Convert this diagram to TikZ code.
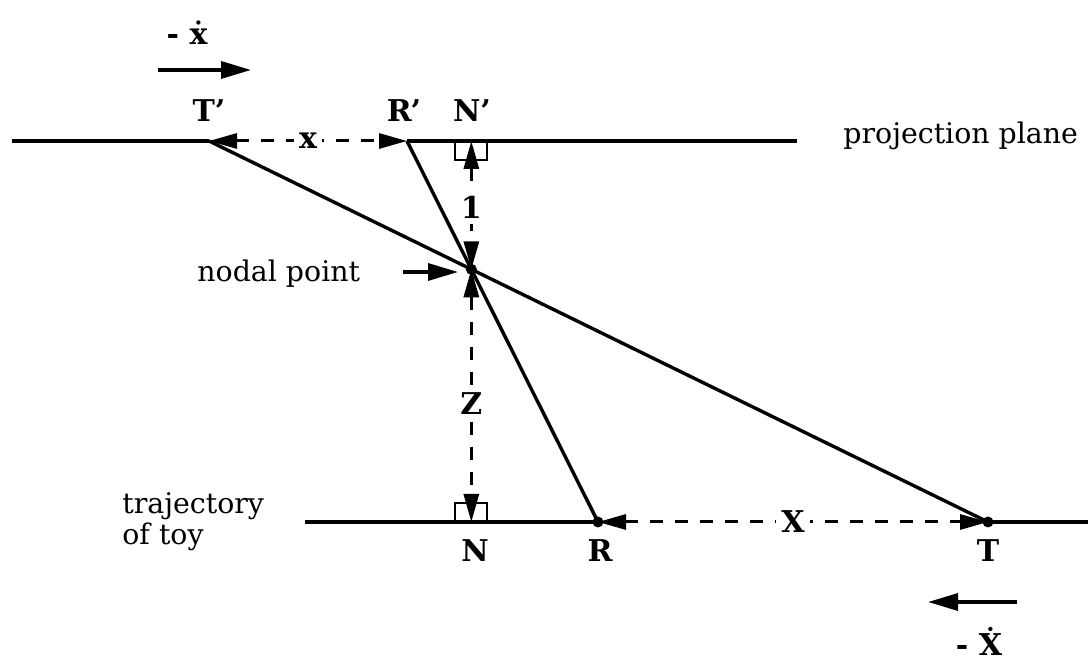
\documentclass[tikz,border=0pt]{standalone}
\usepackage{fontspec}
\setmainfont{DejaVu Serif}
\usetikzlibrary{arrows.meta,calc}
\begin{document}
\begin{tikzpicture}[x=0.5pt,y=-0.5pt,
  solidline/.style={line width=1.7pt},
  dimline/.style={line width=1.5pt, dash pattern=on 6.5pt off 6pt, {Triangle[length=14pt,width=7.5pt]}-{Triangle[length=14pt,width=7.5pt]}},
  pointer/.style={line width=1.7pt, -{Triangle[length=15pt,width=8.5pt]}},
  lbl/.style={font=\fontsize{15}{17}\selectfont\bfseries, inner sep=0pt},
  dimlbl/.style={lbl, fill=white, inner sep=2.5pt},
  txt/.style={font=\fontsize{14.2}{15.5}\selectfont, inner sep=0pt, align=left},
  rightangle/.style={line width=1.1pt},
  dot/.style={circle, fill=black, inner sep=0pt, minimum size=5.5pt}
]
\useasboundingbox (0,0) rectangle (1088,667);

% key points
\coordinate (Tp) at (209,141);
\coordinate (Rp) at (407,141);
\coordinate (R) at (598,522);
\coordinate (T) at (988,522);
\coordinate (O) at (intersection of Tp--T and Rp--R);
\coordinate (Np) at (O |- Tp);
\coordinate (N) at (O |- T);
\coordinate (PL) at (12,141);
\coordinate (PR) at (797,141);
\coordinate (TL) at (305,522);
\coordinate (TR) at (1088,522);

% planes (solid outside the dimensioned parts)
\draw[solidline] (PL) -- (Tp);
\draw[solidline] (Rp) -- (PR);
\draw[solidline] (TL) -- (R);
\draw[solidline] (T) -- (TR);

% rays
\draw[solidline] (Tp) -- (T);
\draw[solidline] (Rp) -- (R);

% right-angle marks
\draw[rightangle] ([xshift=-8pt]Np) -- ++(0,19) -- ++(32,0) -- ++(0,-19);
\draw[rightangle] ([xshift=-8pt]N) -- ++(0,-19) -- ++(32,0) -- ++(0,19);

% dimension lines
\draw[dimline] (Tp) -- node[dimlbl, pos=0.5] (xl) {x} (Rp);
\draw[dimline] (R) -- node[dimlbl, pos=0.5] (Xl) {X} (T);
\draw[dimline] (Np) -- node[dimlbl, pos=0.52] (onel) {1} (O);
\draw[dimline] (O) -- node[dimlbl, pos=0.53] (Zl) {Z} (N);

% dots
\node[dot] (Odot) at (O) {};
\node[dot] (Rdot) at (R) {};
\node[dot] (Tdot) at (T) {};

% point labels
\node[lbl, anchor=base] (TpL) at (209,122) {T'};
\node[lbl, anchor=base] (RpL) at (404,122) {R'};
\node[lbl, anchor=base] (NpL) at (472,122) {N'};
\node[lbl, anchor=base] (NL) at (475,562) {N};
\node[lbl, anchor=base] (RL) at (600,562) {R};
\node[lbl, anchor=base] (TL2) at (988,562) {T};

% texts
\node[txt, anchor=base west] (pp) at (843,144) {projection plane};
\node[txt, anchor=base west] (np) at (197,282) {nodal point};
\node[txt, anchor=base west] (tt) at (122,545) {trajectory\\of toy};

% nodal point pointer
\coordinate (npA) at (403,272);
\coordinate (npB) at (458,272);
\draw[pointer] (npA) -- (npB);

% velocity arrows
\node[lbl, anchor=base] (vtop) at (187,45) {- ẋ};
\coordinate (vA) at (158,70);
\coordinate (vB) at (251,70);
\draw[pointer] (vA) -- (vB);

\node[lbl, anchor=base] (vbot) at (979,656) {- Ẋ};
\coordinate (wA) at (1017,602);
\coordinate (wB) at (928,602);
\draw[pointer] (wA) -- (wB);
\end{tikzpicture}
\end{document}
